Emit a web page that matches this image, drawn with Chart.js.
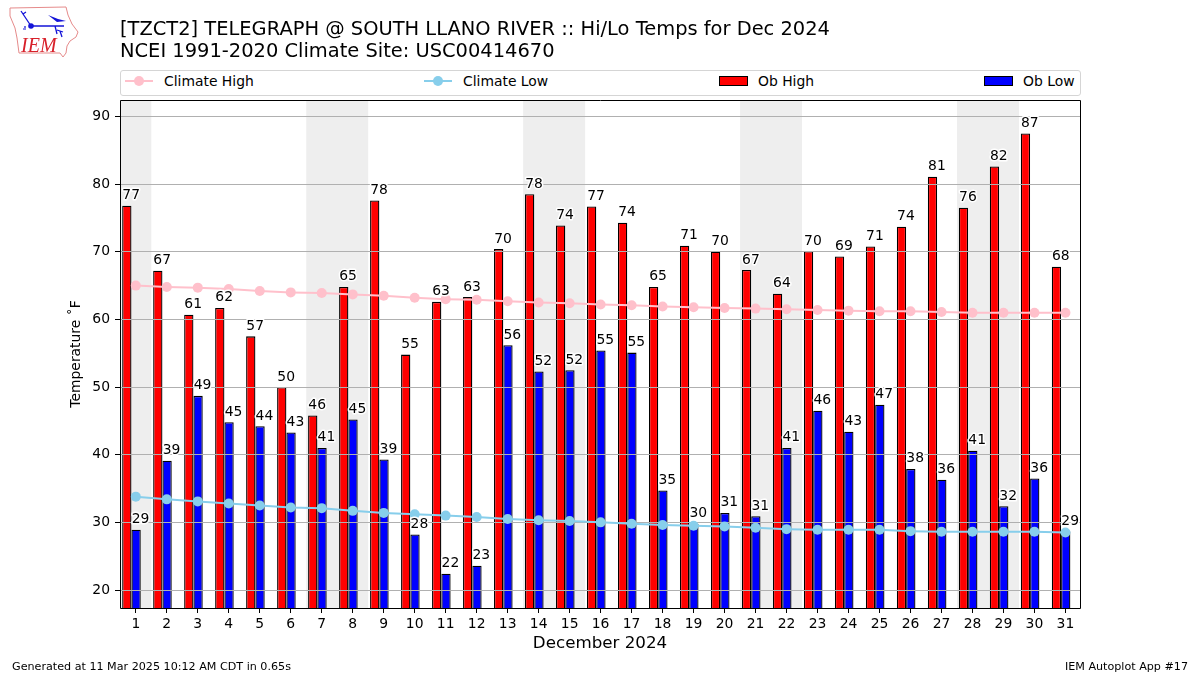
<!DOCTYPE html>
<html>
<head>
<meta charset="utf-8">
<title>TZCT2 Hi/Lo Temps</title>
<script src="https://cdn.jsdelivr.net/npm/chart.js@4"></script>
<style>
  body { margin: 0; background: #fff; font-family: "DejaVu Sans", sans-serif; color: #000; }
  #wrap { position: relative; width: 1200px; height: 675px; overflow: hidden; }
  #chart { position: absolute; left: 0; top: 0; }
  .title { position: absolute; left: 120px; font-size: 19.45px; line-height: 22px; white-space: nowrap; }
  .foot { position: absolute; top: 660px; font-size: 11.15px; line-height: 13px; white-space: nowrap; }
  #legend { position: absolute; left: 120px; top: 70px; width: 959px; height: 24px; border: 1px solid #d5d5d5; border-radius: 3px; background: #fff; }
  .item { position: absolute; top: -1px; height: 24px; }
  .item canvas { position: absolute; left: 0; top: 0; }
  .item span { position: absolute; left: 39px; top: 3px; font-size: 13.9px; line-height: 17px; white-space: nowrap; }
  #logo { position: absolute; left: 0; top: 0; }
</style>
</head>
<body>
<div id="wrap">
  <canvas id="chart" width="1200" height="675"></canvas>
  <svg id="logo" width="90" height="62" viewBox="0 0 90 62">
    <path d="M10 8 L66 7 L68 15 L72 24 L78 32 L76 37 L70 41 L67 46 L66 53 L63 57 L60 53 L19 53 L17 38 L15 28 L10 16 Z" fill="#fff" stroke="#e58a8a" stroke-width="1"/>
    <path d="M31 26 L64 26 M31 26 L23 14 M23 14 L21 11 M23 14 L26 12 M55 26 L57 34 M57 30 L63 32 M60 31 L62 37" fill="none" stroke="#1414d8" stroke-width="1.3"/>
    <path d="M48 15 L58 19 L66 21 L57 22 Z" fill="#1414d8"/>
    <circle cx="31" cy="26" r="2.8" fill="#1414d8"/>
    <path d="M23 29 L26 29 M25 26 L25 28" stroke="#1414d8" stroke-width="1.2"/>
    <text x="21" y="52" font-family="Liberation Serif" font-style="italic" font-size="20" fill="#d8202a">IEM</text>
  </svg>
  <div class="title" style="top:18px">[TZCT2] TELEGRAPH @ SOUTH LLANO RIVER :: Hi/Lo Temps for Dec 2024</div>
  <div class="title" style="top:40px">NCEI 1991-2020 Climate Site: USC00414670</div>
  <div id="legend"></div>
  <div class="foot" style="left:12px">Generated at 11 Mar 2025 10:12 AM CDT in 0.65s</div>
  <div class="foot" style="right:12px">IEM Autoplot App #17</div>
</div>
<script>
const days = [1,2,3,4,5,6,7,8,9,10,11,12,13,14,15,16,17,18,19,20,21,22,23,24,25,26,27,28,29,30,31];
const obHigh = [76.8,67.2,60.7,61.7,57.5,50.0,45.8,64.8,77.6,54.8,62.6,63.3,70.4,78.5,73.9,76.7,74.3,64.8,70.9,70.0,67.3,63.8,70.1,69.3,70.8,73.7,81.1,76.5,82.6,87.5,67.8];
const obLow = [28.9,39.1,48.7,44.8,44.2,43.3,41.0,45.2,39.3,28.2,22.4,23.6,56.2,52.3,52.5,55.4,55.1,34.7,29.8,31.4,30.9,41.0,46.5,43.4,47.4,37.9,36.3,40.6,32.4,36.5,28.7];
const highLabels = [77,67,61,62,57,50,46,65,78,55,63,63,70,78,74,77,74,65,71,70,67,64,70,69,71,74,81,76,82,87,68];
const lowLabels = [29,39,49,45,44,43,41,45,39,28,22,23,56,52,52,55,55,35,30,31,31,41,46,43,47,38,36,41,32,36,29];
const climateHigh = [65.0,64.8,64.7,64.5,64.2,64.0,63.9,63.7,63.5,63.2,63.0,62.9,62.7,62.5,62.4,62.2,62.1,61.9,61.8,61.7,61.6,61.5,61.4,61.3,61.2,61.2,61.1,61.0,61.0,61.0,61.0];
const climateLow = [33.8,33.4,33.1,32.8,32.5,32.2,32.1,31.7,31.4,31.2,31.0,30.8,30.5,30.3,30.2,30.0,29.8,29.6,29.5,29.4,29.2,29.0,28.9,28.9,28.9,28.7,28.6,28.6,28.6,28.6,28.5];
// weekend shading, [from, to] in day units
const weekends = [[0.4,1.5],[6.5,8.5],[13.5,15.5],[20.5,22.5],[27.5,29.5]];
// the bar pairs sit a little left of their day tick
const barShift = -0.14;

const font = '"DejaVu Sans"';
const shifted = (values) => values.map((y, i) => ({ x: days[i] + barShift, y }));
const barLabels = { 2: highLabels, 3: lowLabels };

const backdrop = {
  id: "backdrop",
  beforeDatasetsDraw(chart) {
    const { ctx, chartArea: a, scales: { x } } = chart;
    ctx.save();
    ctx.beginPath();
    ctx.rect(a.left, a.top, a.width, a.height);
    ctx.clip();
    ctx.fillStyle = "#eeeeee";
    weekends.forEach(([from, to]) => {
      const l = x.getPixelForValue(from);
      ctx.fillRect(l, a.top, x.getPixelForValue(to) - l, a.height);
    });
    ctx.restore();
  },
  // grid goes over the bars but under the climate lines
  afterDatasetDraw(chart, args) {
    if (args.index !== 2) return;
    const { ctx, chartArea: a, scales: { y } } = chart;
    ctx.save();
    ctx.strokeStyle = "#b0b0b0";
    ctx.lineWidth = 1;
    y.ticks.forEach((t) => {
      const py = Math.floor(y.getPixelForValue(t.value)) + 0.5;
      ctx.beginPath();
      ctx.moveTo(a.left, py);
      ctx.lineTo(a.right, py);
      ctx.stroke();
    });
    ctx.restore();
  },
  afterDraw(chart) {
    const { ctx, chartArea: a } = chart;
    ctx.save();
    ctx.textAlign = "left";
    ctx.textBaseline = "alphabetic";
    ctx.font = "13.9px " + font;
    ctx.lineJoin = "round";
    [2, 3].forEach((i) => {
      chart.getDatasetMeta(i).data.forEach((bar, n) => {
        const label = String(barLabels[i][n]);
        const lx = bar.x - bar.width / 2 + 0.2;
        const ly = bar.y - 6.5;
        ctx.strokeStyle = "#fff";
        ctx.lineWidth = 3;
        ctx.strokeText(label, lx, ly);
        ctx.fillStyle = "#000";
        ctx.fillText(label, lx, ly);
      });
    });
    // axes frame
    ctx.strokeStyle = "#000";
    ctx.lineWidth = 1;
    ctx.strokeRect(a.left + 0.5, a.top + 0.5, a.width, a.height);
    ctx.restore();
  },
};

const chart = new Chart(document.getElementById("chart").getContext("2d"), {
  type: "bar",
  data: {
    labels: days,
    datasets: [
      { type: "line", label: "Climate High", data: climateHigh, order: 0, borderColor: "pink", backgroundColor: "pink", borderWidth: 2, pointRadius: 5, pointBorderWidth: 0, pointHoverRadius: 5, tension: 0 },
      { type: "line", label: "Climate Low", data: climateLow, order: 0, borderColor: "skyblue", backgroundColor: "skyblue", borderWidth: 2, pointRadius: 5, pointBorderWidth: 0, pointHoverRadius: 5, tension: 0 },
      { label: "Ob High", data: shifted(obHigh), order: 1, backgroundColor: "#ff0000", borderColor: "#000", borderWidth: 1.3, categoryPercentage: 0.6, barPercentage: 1 },
      { label: "Ob Low", data: shifted(obLow), order: 1, backgroundColor: "#0000ff", borderColor: "#000", borderWidth: 1.3, categoryPercentage: 0.6, barPercentage: 1 },
    ],
  },
  options: {
    responsive: false,
    animation: false,
    devicePixelRatio: 1,
    layout: { padding: { left: 0, right: 120, top: 100, bottom: 0 } },
    plugins: { legend: { display: false }, title: { display: false }, tooltip: { enabled: false } },
    scales: {
      x: {
        type: "linear",
        offset: false,
        min: 0.49,
        max: 31.47,
        afterFit: (s) => { s.height = 67; },
        title: { display: true, text: "December 2024", color: "#000", font: { family: font, size: 16.7 }, padding: { top: 0, bottom: 21 } },
        ticks: { stepSize: 1, includeBounds: false, autoSkip: false, maxRotation: 0, color: "#000", padding: 3, font: { family: font, size: 13.9 } },
        grid: { offset: false, drawOnChartArea: false, drawTicks: true, tickLength: 5, color: "#000" },
        border: { display: false },
      },
      y: {
        min: 17.34,
        max: 92.44,
        afterFit: (s) => { s.width = 120; },
        title: { display: true, text: "Temperature ˚F", color: "#000", font: { family: font, size: 13.9 }, padding: { top: 68.5, bottom: 0 } },
        ticks: { stepSize: 10, includeBounds: false, color: "#000", padding: 5, font: { family: font, size: 13.9 } },
        grid: { drawOnChartArea: false, drawTicks: true, tickLength: 5, color: "#000" },
        border: { display: false },
      },
    },
  },
  plugins: [backdrop],
});

// legend spread across the top of the axes
const legendLeft = [4, 303, 598, 863];
chart.data.datasets.forEach((ds, i) => {
  const item = document.createElement("div");
  item.className = "item";
  item.style.left = legendLeft[i] + "px";
  const swatch = document.createElement("canvas");
  swatch.width = 30;
  swatch.height = 24;
  const c = swatch.getContext("2d");
  if (ds.type === "line") {
    c.strokeStyle = ds.borderColor;
    c.lineWidth = 2;
    c.beginPath();
    c.moveTo(0, 11);
    c.lineTo(28, 11);
    c.stroke();
    c.fillStyle = ds.backgroundColor;
    c.beginPath();
    c.arc(14, 11, 5, 0, Math.PI * 2);
    c.fill();
  } else {
    c.fillStyle = ds.backgroundColor;
    c.fillRect(0.5, 6.5, 28, 9);
    c.strokeStyle = "#000";
    c.strokeRect(0.5, 6.5, 28, 9);
  }
  const text = document.createElement("span");
  text.textContent = ds.label;
  item.appendChild(swatch);
  item.appendChild(text);
  document.getElementById("legend").appendChild(item);
});
</script>
</body>
</html>
